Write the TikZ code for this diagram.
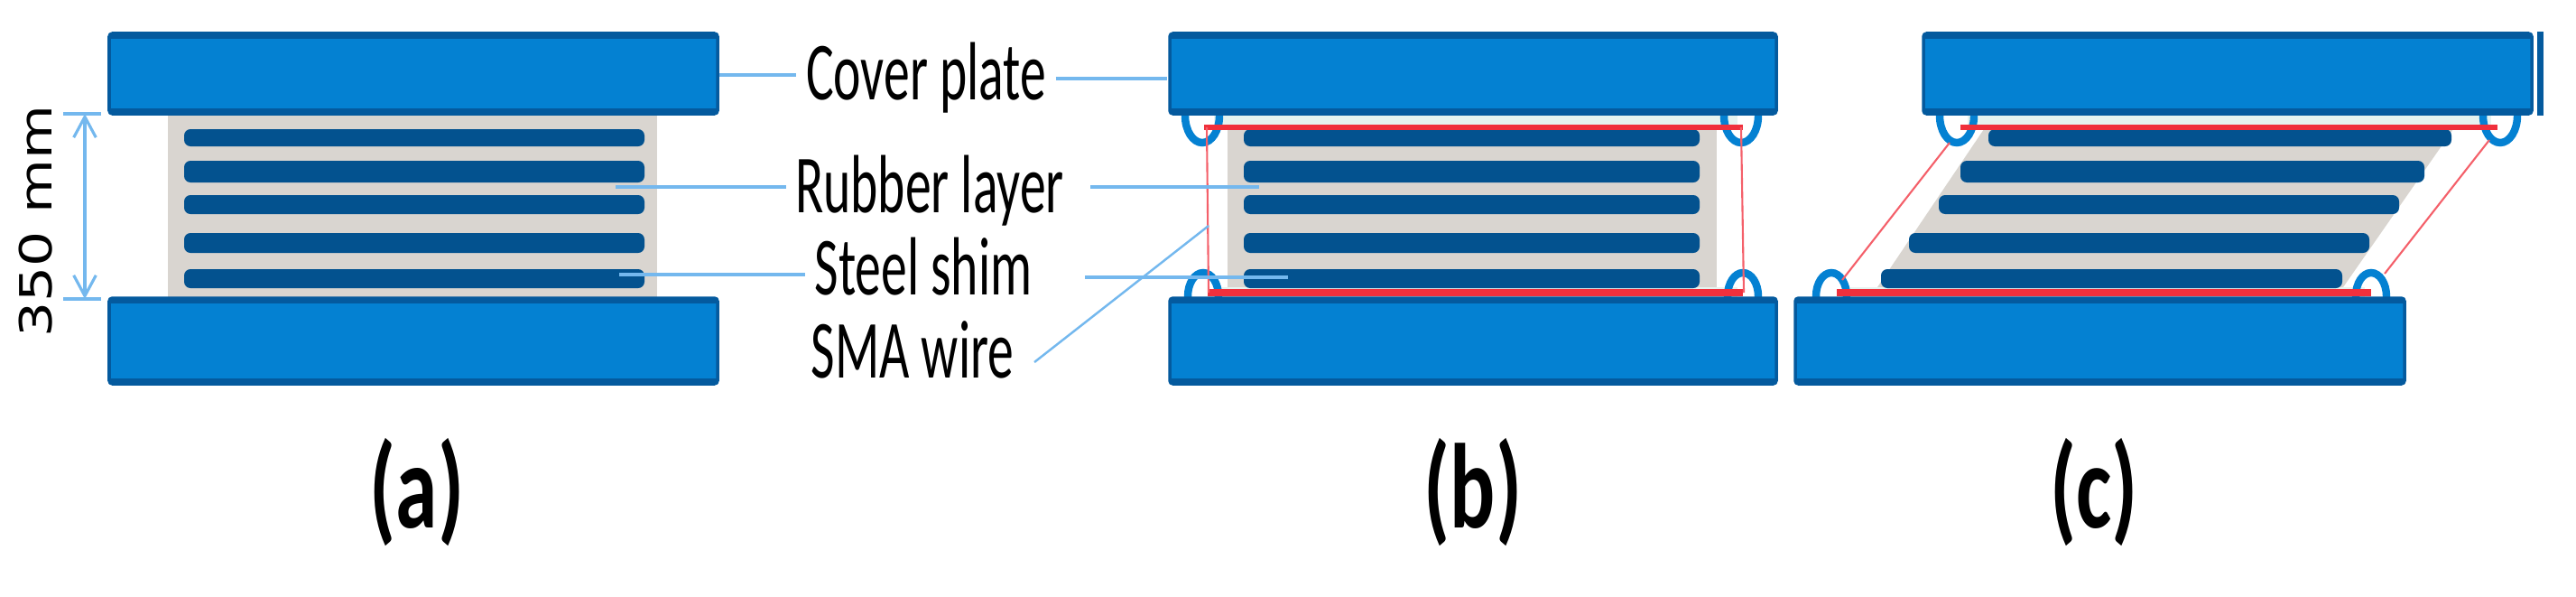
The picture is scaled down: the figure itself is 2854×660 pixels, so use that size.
\documentclass[tikz,border=0pt]{standalone}
\usepackage{fontspec}
\setmainfont{Carlito}
\newfontfamily\dimfont{DejaVu Sans}
\usetikzlibrary{arrows.meta}
\definecolor{platecol}{HTML}{0481D2}
\definecolor{plateedge}{HTML}{045A9E}
\definecolor{shimcol}{HTML}{03528F}
\definecolor{rubbercol}{HTML}{D9D5D0}
\definecolor{bandcol}{HTML}{E6F3F0}
\definecolor{leadcol}{HTML}{74B8EE}
\definecolor{wirecol}{HTML}{F4606A}
\definecolor{bandred}{HTML}{F0303C}
\tikzset{
  plate/.style={fill=platecol, draw=plateedge, line width=1pt, rounded corners=1pt},
  shim/.style={fill=shimcol, rounded corners=2pt},
  rubber/.style={fill=rubbercol},
  leader/.style={leadcol, line width=1.2pt},
  thinwire/.style={wirecol, line width=0.6pt},
  bandwire/.style={bandred, line width=1.8pt},
  hook/.style={draw=platecol, line width=2.4pt},
  partname/.style={anchor=base, font=\fontsize{26}{26}\selectfont, xscale=0.63, inner xsep=4.6pt, inner ysep=0pt},
  casename/.style={anchor=center, font=\fontsize{38}{38}\selectfont\bfseries, xscale=0.7, inner sep=0pt},
}

\begin{document}
\begin{tikzpicture}[x=0.01cm, y=-0.01cm, >=Stealth]
  \useasboundingbox (0,0) rectangle (2854,660);

  % Rubber blocks.
  \fill[rubber] (186,128) rectangle (728,330);
  \fill[rubber] (1360,143) rectangle (1902,318);
  \fill[rubber] (2198,143) -- (2718,143) -- (2596,318) -- (2080,318) -- cycle;

  % Pale bands next to the plates.
  \fill[bandcol] (1345,128) rectangle (1925,143);
  \fill[bandcol] (1345,318) rectangle (1925,330);
  \fill[bandcol] (2180,128) rectangle (2760,143);
  \fill[bandcol] (2040,318) rectangle (2620,330);

  % Steel shims.
  \foreach \ya/\yb in {143/162, 178/202, 216/237, 258/280, 298/319} {
    \fill[shim] (204,\ya) rectangle (714,\yb);
    \fill[shim] (1378,\ya) rectangle (1883,\yb);
  }
  \foreach \xa/\xb/\ya/\yb in {2203/2716/143/162, 2172/2686/178/202, 2148/2658/216/237, 2115/2625/258/280, 2084/2595/298/319} {
    \fill[shim] (\xa,\ya) rectangle (\xb,\yb);
  }

  % Wire hooks, half hidden by the plates.
  \foreach \x in {1332, 1929, 2168, 2770} {
    \draw[hook] (\x,128) ellipse [x radius=19, y radius=30];
  }
  \foreach \x in {1333, 1931, 2029, 2627} {
    \draw[hook] (\x,328) ellipse [x radius=17, y radius=26];
  }

  % SMA wires.
  \draw[bandwire] (1334,141) -- (1931,141);
  \draw[bandwire, line width=2.2pt] (1338,324) -- (1931,324);
  \draw[bandwire] (2172,141) -- (2767,141);
  \draw[bandwire, line width=2.2pt] (2035,324) -- (2627,324);
  \draw[thinwire] (1337,141) -- (1339,324);
  \draw[thinwire] (1929,141) -- (1932,324);
  \draw[thinwire] (2160,158) -- (2041,310);
  \draw[thinwire] (2758,155) -- (2642,303);

  % Cover plates, with dark strips along the long sides.
  \foreach \xa/\xb/\ya/\yb in {121/795/37/126, 121/795/330/425, 1296/1968/37/126, 1296/1968/330/425, 2131/2805/37/126, 1989/2664/330/425} {
    \draw[plate] (\xa,\ya) rectangle (\xb,\yb);
    \fill[plateedge] (\xa,\ya) rectangle (\xb,{\ya+6});
    \fill[plateedge] (\xa,{\yb-6}) rectangle (\xb,\yb);
  }
  \fill[plateedge] (2811,35) rectangle (2818,128);

  % Part names.
  \node[partname] (covertxt) at (1026,110) {Cover plate};
  \node[partname] (rubbertxt) at (1030,235) {Rubber layer};
  \node[partname] (steeltxt) at (1023,326) {Steel shim};
  \node[partname] (smatxt) at (1011,418) {SMA wire};

  % Leader lines.
  \coordinate (coverA) at (797,83);
  \coordinate (coverB) at (1293,87);
  \coordinate (rubberA) at (682,207);
  \coordinate (rubberB) at (1395,207);
  \coordinate (rubberC) at (1208,207);
  \coordinate (steelA) at (686,304);
  \coordinate (steelB) at (1427,307);
  \coordinate (steelC) at (1202,307);
  \coordinate (smaA) at (1146,401);
  \coordinate (smaB) at (1339,250);
  \draw[leader] (coverA) -- (covertxt.west |- coverA);
  \draw[leader] (covertxt.east |- coverB) -- (coverB);
  \draw[leader] (rubberA) -- (rubbertxt.west |- rubberA);
  \draw[leader] (rubberC) -- (rubberB);
  \draw[leader] (steelA) -- (steeltxt.west |- steelA);
  \draw[leader] (steelC) -- (steelB);
  \draw[leader, line width=0.7pt] (smaA) -- (smaB);

  % Height dimension.
  \coordinate (dimtop) at (94,126);
  \coordinate (dimbot) at (94,331);
  \draw[leader, line width=1.4pt] (70,126) -- (112,126);
  \draw[leader, line width=1.4pt] (70,331) -- (112,331);
  \draw[leader, line width=0.9pt, {Straight Barb[length=6.5pt,width=7pt]}-{Straight Barb[length=6.5pt,width=7pt]}] (dimtop) -- (dimbot);
  \node[rotate=90, xscale=1.25, font=\dimfont\fontsize{14}{14}\selectfont, inner sep=0pt] (dimtxt) at (40,245) {350 mm};

  % Case letters.
  \node[casename] (casea) at (462,545) {(a)};
  \node[casename] (caseb) at (1632,545) {(b)};
  \node[casename] (casec) at (2320,545) {(c)};

\end{tikzpicture}
\end{document}
